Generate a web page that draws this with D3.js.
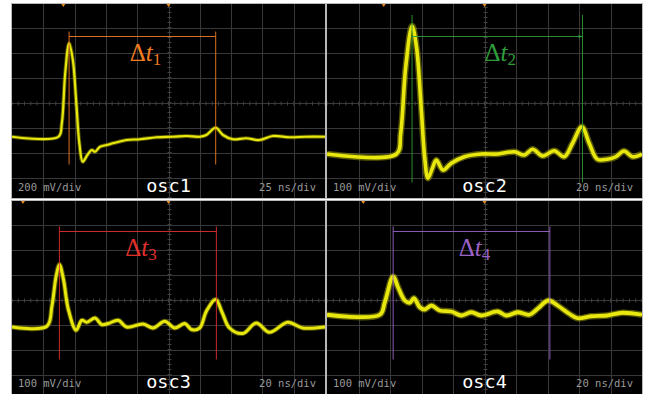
<!DOCTYPE html>
<html>
<head>
<meta charset="utf-8">
<script src="https://cdn.jsdelivr.net/npm/d3@7"></script>
<style>
  body { margin: 0; background: #fff; }
  svg { display: block; }
  .delta { font-family: "Liberation Serif", "DejaVu Serif", serif; }
  .readout { font-family: "DejaVu Sans Mono", monospace; }
</style>
</head>
<body>
<svg id="chart" width="651" height="394"></svg>
<script>
// values (time in ns from trigger, voltage in mV)
var osc1Time = [-125, -87.9, -85.2, -82.5, -79.4, -76.4, -73.8, -71.2, -68.5, -64.8, -61.3, -58.7, -54.7, -49.4, -42.7, -33.4, -22.8, -9.6, 3.7, 14.3, 24.9, 30.2, 37.7, 43.5, 51.4, 62.1, 72.7, 83.3, 96.6, 109.8, 125];
var osc1Volt = [-274, -274, -166, 234, 474, 340, 20, -326, -474, -420, -380, -394, -354, -340, -322, -300, -294, -278, -274, -268, -274, -260, -202, -260, -294, -286, -300, -268, -278, -274, -274];

var osc2Time = [-100, -55.9, -53.2, -50, -46, -43.2, -40.1, -38, -35.9, -33.1, -30.6, -26.4, -21.1, -12.7, -2.1, 8.4, 19, 25.3, 30.6, 36.9, 44.3, 50.6, 55.9, 61.8, 66.5, 71.7, 78, 83.4, 88.6, 93.9, 100];
var osc2Volt = [-206, -206, -123, 143, 306, 223, -30, -217, -303, -263, -230, -270, -243, -217, -206, -206, -197, -210, -187, -214, -193, -217, -163, -97, -163, -227, -227, -217, -194, -217, -206];

var osc3Time = [-100, -77.7, -74.5, -71.8, -69.7, -67.1, -64, -59, -55.4, -52.2, -46.9, -42.7, -38.5, -32.1, -26.8, -16.2, -9.8, -2.4, 4, 10.4, 14.7, 19.9, 24.2, 30.1, 34.4, 39, 47.5, 56.1, 64.5, 76.2, 85.7, 100];
var osc3Volt = [-110, -107, -27, 93, 140, 80, -40, -123, -83, -91, -74, -100, -96, -83, -110, -98, -114, -87, -114, -96, -120, -114, -47, 0, -54, -114, -136, -94, -131, -91, -114, -110];

var osc4Time = [-100, -66.5, -63.3, -58, -54.9, -50.6, -47.5, -44.8, -41.1, -38, -33.7, -28.5, -21.1, -14.7, -8.4, -2.1, 8.4, 13.7, 21.1, 28.5, 33.7, 40.5, 46.4, 53.8, 59.1, 67.5, 78, 87.5, 100];
var osc4Volt = [-61, -61, -11, 92, 49, -4, -13, 5, -31, -40, -24, -44, -48, -64, -51, -64, -48, -64, -51, -61, -37, -4, -24, -57, -75, -67, -64, -53, -61];

var names = ["osc1", "osc2", "osc3", "osc4"];
var voltLabels = ["200 mV/div", "100 mV/div", "100 mV/div", "100 mV/div"];
var timeLabels = ["25 ns/div", "20 ns/div", "20 ns/div", "20 ns/div"];
var mvPerDiv = [200, 100, 100, 100];
var nsPerDiv = [25, 20, 20, 20];
var markerStart = [-79.4, -46, -69.7, -58];
var markerEnd = [37.7, 62.2, 30.6, 41.5];
var deltaSubs = ["1", "2", "3", "4"];
var triggerMarks = [-84, -64, -93, -77];

var traces = [
  [osc1Time, osc1Volt],
  [osc2Time, osc2Volt],
  [osc3Time, osc3Volt],
  [osc4Time, osc4Volt]
];

// layout of the four screens
var boxes = [
  {x: 12, y: 4, w: 313, h: 194},
  {x: 327, y: 4, w: 315, h: 194},
  {x: 12, y: 201, w: 313, h: 193},
  {x: 327, y: 201, w: 315, h: 193}
];
var markColors = ["#f07c22", "#2f9e3a", "#e0302c", "#9b62c8"];
var bandWidths = [4, 6.5, 5, 6.5];
var lineWidths = [2.2, 3.6, 3, 3.8];

var svg = d3.select('#chart');
var defs = svg.append('defs');

boxes.forEach(function(b, i) {
  var cx = b.x + b.w / 2;
  var cy = b.y + 98.5;

  var x = d3.scaleLinear()
    .domain([-5 * nsPerDiv[i], 5 * nsPerDiv[i]])
    .range([b.x, b.x + b.w]);
  var y = d3.scaleLinear()
    .domain([-4 * mvPerDiv[i], 4 * mvPerDiv[i]])
    .range([cy + 100, cy - 100]);

  defs.append('clipPath').attr('id', 'clip' + i)
    .append('rect')
    .attr('x', b.x).attr('y', b.y).attr('width', b.w).attr('height', b.h);

  var g = svg.append('g');
  g.append('rect')
    .attr('x', b.x - 0.5).attr('y', b.y - 0.5)
    .attr('width', b.w + 1).attr('height', b.h + 1)
    .attr('fill', '#000')
    .attr('stroke', '#b8b8b8')
    .attr('stroke-width', 1);

  var inner = g.append('g').attr('clip-path', 'url(#clip' + i + ')');

  // grid
  var xt = d3.range(-4, 5).map(function(k) { return k * nsPerDiv[i]; });
  var yt = d3.range(-4, 5).map(function(k) { return k * mvPerDiv[i]; });
  inner.selectAll('.vgrid').data(xt).enter().append('line')
    .attr('x1', function(d) { return Math.round(x(d)) + 0.5; })
    .attr('x2', function(d) { return Math.round(x(d)) + 0.5; })
    .attr('y1', b.y).attr('y2', b.y + b.h)
    .attr('stroke', '#383838');
  inner.selectAll('.hgrid').data(yt).enter().append('line')
    .attr('y1', function(d) { return Math.round(y(d)) + 0.5; })
    .attr('y2', function(d) { return Math.round(y(d)) + 0.5; })
    .attr('x1', b.x).attr('x2', b.x + b.w)
    .attr('stroke', '#383838');

  // minor ticks along the centre lines
  var minorX = d3.range(-25, 26).map(function(k) { return k * nsPerDiv[i] / 5; });
  inner.selectAll('.mx').data(minorX).enter().append('line')
    .attr('x1', function(d) { return x(d); }).attr('x2', function(d) { return x(d); })
    .attr('y1', Math.round(y(0)) - 1.5).attr('y2', Math.round(y(0)) + 2.5)
    .attr('stroke', '#404040');
  var minorY = d3.range(-20, 21).map(function(k) { return k * mvPerDiv[i] / 5; });
  inner.selectAll('.my').data(minorY).enter().append('line')
    .attr('y1', function(d) { return y(d); }).attr('y2', function(d) { return y(d); })
    .attr('x1', Math.round(x(0)) - 1.5).attr('x2', Math.round(x(0)) + 2.5)
    .attr('stroke', '#404040');

  // trigger marks on top edge
  [triggerMarks[i], 0].forEach(function(t) {
    var px = x(t);
    inner.append('path')
      .attr('d', 'M' + (px - 2) + ',' + b.y + 'L' + (px + 2) + ',' + b.y + 'L' + px + ',' + (b.y + 3) + 'Z')
      .attr('fill', '#e8891c');
  });

  // trace: faint noise band, then the bright line
  var pts = d3.zip(traces[i][0], traces[i][1]);
  var line = d3.line()
    .x(function(d) { return x(d[0]); })
    .y(function(d) { return y(d[1]); })
    .curve(d3.curveCatmullRom.alpha(0.5));
  inner.append('path').datum(pts)
    .attr('d', line)
    .attr('fill', 'none')
    .attr('stroke', '#9a9a08')
    .attr('stroke-opacity', 0.55)
    .attr('stroke-width', bandWidths[i])
    .attr('stroke-linejoin', 'round');
  inner.append('path').datum(pts)
    .attr('d', line)
    .attr('fill', 'none')
    .attr('stroke', '#e8e80e')
    .attr('stroke-width', lineWidths[i])
    .attr('stroke-linejoin', 'round');

  // delta-t markers
  var col = markColors[i];
  var m1 = x(markerStart[i]), m2 = x(markerEnd[i]);
  var top = b.y + (i < 2 ? (i === 1 ? 11 : 27.5) : 25.5);
  var bot = b.y + (i < 2 ? (i === 1 ? 178.5 : 160.5) : 158.5);
  var hy = b.y + (i < 2 ? 32.5 : 30.5);
  [m1, m2].forEach(function(px) {
    inner.append('line')
      .attr('x1', px).attr('x2', px).attr('y1', top).attr('y2', bot)
      .attr('stroke', col).attr('stroke-width', 0.9);
  });
  inner.append('line')
    .attr('x1', m1).attr('x2', m2).attr('y1', hy).attr('y2', hy)
    .attr('stroke', col).attr('stroke-width', 0.9);
  if (i === 1) {
    inner.append('circle').attr('cx', m2 - 3).attr('cy', hy).attr('r', 1.3).attr('fill', col);
  }

  var lab = inner.append('text')
    .attr('class', 'delta')
    .attr('x', (m1 + m2) / 2 + 3)
    .attr('y', hy + 24)
    .attr('text-anchor', 'middle')
    .attr('fill', col)
    .attr('font-size', 25);
  lab.append('tspan').text('\u0394');
  lab.append('tspan').attr('font-style', 'italic').text('t');
  lab.append('tspan').attr('font-size', 17).attr('dy', 4).text(deltaSubs[i]);

  // scale readouts
  var by = b.y + b.h - 7;
  inner.append('text')
    .attr('class', 'readout')
    .attr('x', b.x + 6).attr('y', by)
    .attr('fill', '#9a9a9a')
    .attr('font-size', 10.5)
    .text(voltLabels[i]);
  inner.append('text')
    .attr('class', 'readout')
    .attr('x', b.x + b.w - 9).attr('y', by)
    .attr('text-anchor', 'end')
    .attr('fill', '#9a9a9a')
    .attr('font-size', 10.5)
    .text(timeLabels[i]);
  inner.append('text')
    .attr('class', 'readout')
    .attr('x', cx).attr('y', by + 1)
    .attr('text-anchor', 'middle')
    .attr('fill', '#fff')
    .attr('font-size', 18.5)
    .text(names[i]);
});
</script>
</body>
</html>
